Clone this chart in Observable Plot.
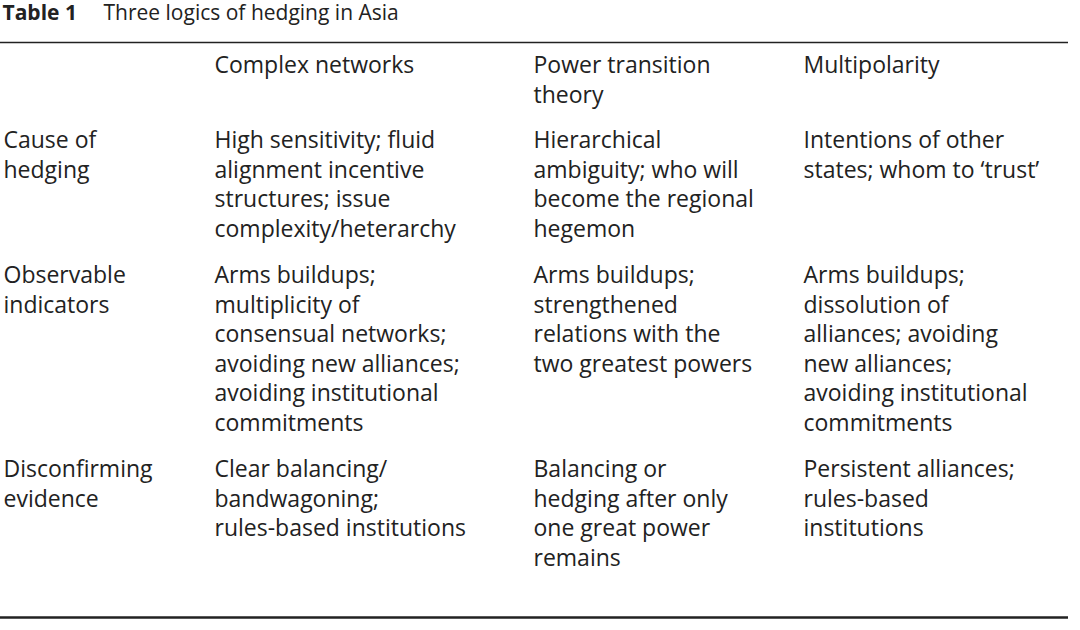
<!DOCTYPE html>
<html><head><meta charset="utf-8">
<script src="https://cdn.jsdelivr.net/npm/d3@7"></script>
<script src="https://cdn.jsdelivr.net/npm/@observablehq/plot@0.6"></script>
<style>body{margin:0;background:#fff}</style>
</head><body><div id="chart"></div>
<script>
const titleBold = "Table 1";
const titleText = "Three logics of hedging in Asia";
const headers = ["", "Complex networks", "Power transition\ntheory", "Multipolarity"];
const rowLabels = ["Cause of\nhedging", "Observable\nindicators", "Disconfirming\nevidence"];
const complexNetworks = [
  "High sensitivity; fluid\nalignment incentive\nstructures; issue\ncomplexity/heterarchy",
  "Arms buildups;\nmultiplicity of\nconsensual networks;\navoiding new alliances;\navoiding institutional\ncommitments",
  "Clear balancing/\nbandwagoning;\nrules-based institutions"
];
const powerTransition = [
  "Hierarchical\nambiguity; who will\nbecome the regional\nhegemon",
  "Arms buildups;\nstrengthened\nrelations with the\ntwo greatest powers",
  "Balancing or\nhedging after only\none great power\nremains"
];
const multipolarity = [
  "Intentions of other\nstates; whom to \u2018trust\u2019",
  "Arms buildups;\ndissolution of\nalliances; avoiding\nnew alliances;\navoiding institutional\ncommitments",
  "Persistent alliances;\nrules-based\ninstitutions"
];

// layout
const colX = [3, 214, 533, 803];
const headerY = 52;
const rowY = [127, 262, 456];

const cells = [];
headers.forEach((h, c) => { if (h) cells.push({x: colX[c], y: headerY, t: h}); });
rowLabels.forEach((r, i) => {
  cells.push({x: colX[0], y: rowY[i], t: r});
  cells.push({x: colX[1], y: rowY[i], t: complexNetworks[i]});
  cells.push({x: colX[2], y: rowY[i], t: powerTransition[i]});
  cells.push({x: colX[3], y: rowY[i], t: multipolarity[i]});
});

const font = "'Open Sans', sans-serif";
const chart = Plot.plot({
  width: 1080, height: 630, margin: 0,
  x: {domain: [0, 1080], range: [0, 1080], axis: null},
  y: {domain: [0, 630], range: [0, 630], axis: null},
  marks: [
    Plot.text([titleBold], {x: 2, y: 13, text: d => d, textAnchor: "start", lineAnchor: "middle",
      fontSize: 21, fontWeight: "bold", fontFamily: font, fill: "#222"}),
    Plot.text([titleText], {x: 103, y: 13, text: d => d, textAnchor: "start", lineAnchor: "middle",
      fontSize: 21, fontFamily: font, fill: "#222"}),
    Plot.ruleY([42], {x1: 0, x2: 1068, stroke: "#222", strokeWidth: 1.5}),
    Plot.ruleY([617], {x1: 0, x2: 1068, stroke: "#222", strokeWidth: 2.5}),
    Plot.text(cells, {x: "x", y: "y", text: "t", textAnchor: "start", lineAnchor: "top",
      lineHeight: 1.28, fontSize: 23, fontFamily: font, fill: "#222"})
  ]
});
d3.select("#chart").append(() => chart);
</script>
</body></html>
